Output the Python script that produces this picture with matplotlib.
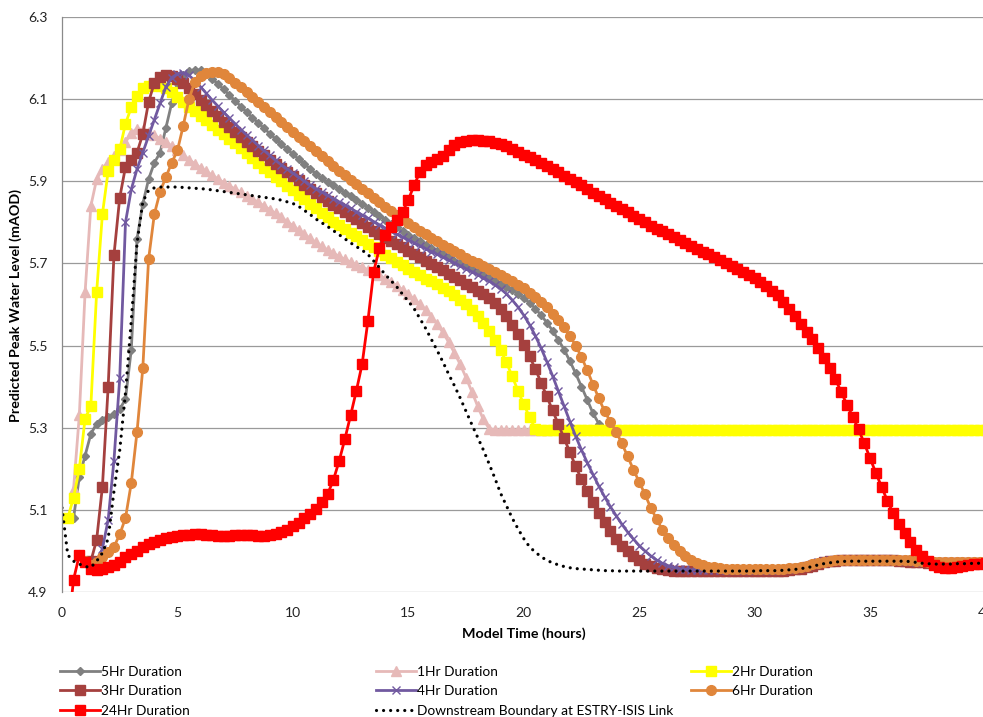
import numpy as np
import matplotlib
matplotlib.use("Agg")
import matplotlib.pyplot as plt

plt.rcParams['font.family'] = ['Lato', 'DejaVu Sans']

# ---------------- data (model time step 0.25 h) ----------------
STEP = 0.25
x_ticks = [0, 5, 10, 15, 20, 25, 30, 35, 40]
y_ticks = [4.9, 5.1, 5.3, 5.5, 5.7, 5.9, 6.1, 6.3]

hr5_start = 0.5
hr5 = [5.08, 5.18,
       5.232, 5.285, 5.31, 5.318,
       5.326, 5.334, 5.345, 5.37,
       5.49, 5.76, 5.845, 5.905,
       5.945, 5.97, 6.03, 6.09,
       6.14, 6.158, 6.168, 6.172,
       6.17, 6.162, 6.15, 6.137,
       6.124, 6.11, 6.096, 6.082,
       6.068, 6.055, 6.042, 6.029,
       6.016, 6.003, 5.99, 5.978,
       5.966, 5.954, 5.942, 5.93,
       5.918, 5.907, 5.898, 5.89,
       5.881, 5.872, 5.863, 5.854,
       5.845, 5.836, 5.826, 5.816,
       5.806, 5.797, 5.788, 5.779,
       5.77, 5.762, 5.754, 5.746,
       5.738, 5.73, 5.722, 5.715,
       5.707, 5.7, 5.693, 5.686,
       5.679, 5.672, 5.665, 5.658,
       5.651, 5.643, 5.635, 5.626,
       5.616, 5.604, 5.59, 5.574,
       5.556, 5.536, 5.514, 5.49,
       5.462, 5.432, 5.4, 5.368,
       5.335, 5.31, 5.298]

hr1_start = 0.5
hr1 = [5.15, 5.33,
       5.63, 5.84, 5.905, 5.93,
       5.948, 5.962, 5.976, 5.995,
       6.018, 6.028, 6.026, 6.02,
       6.012, 6.004, 5.996, 5.986,
       5.975, 5.964, 5.953, 5.943,
       5.933, 5.924, 5.915, 5.906,
       5.897, 5.889, 5.881, 5.873,
       5.865, 5.857, 5.849, 5.84,
       5.831, 5.822, 5.812, 5.802,
       5.792, 5.781, 5.771, 5.761,
       5.751, 5.742, 5.733, 5.725,
       5.717, 5.71, 5.703, 5.697,
       5.691, 5.685, 5.678, 5.671,
       5.663, 5.655, 5.646, 5.636,
       5.625, 5.613, 5.6, 5.586,
       5.57, 5.552, 5.532, 5.508,
       5.482, 5.454, 5.422, 5.388,
       5.353, 5.32, 5.298, 5.295,
       5.295, 5.295, 5.295, 5.295,
       5.295, 5.295, 5.295, 5.295,
       5.295]

hr2_start = 0.25
hr2 = [5.08, 5.13, 5.20,
       5.322, 5.353, 5.63, 5.82,
       5.925, 5.952, 5.978, 6.04,
       6.08, 6.108, 6.126, 6.132,
       6.134, 6.132, 6.127, 6.117,
       6.105, 6.093, 6.081, 6.07,
       6.059, 6.048, 6.037, 6.026,
       6.015, 6.004, 5.993, 5.981,
       5.969, 5.957, 5.945, 5.933,
       5.922, 5.911, 5.9, 5.889,
       5.878, 5.867, 5.856, 5.845,
       5.834, 5.823, 5.812, 5.802,
       5.793, 5.784, 5.775, 5.766,
       5.757, 5.748, 5.739, 5.73,
       5.721, 5.712, 5.703, 5.695,
       5.687, 5.679, 5.671, 5.663,
       5.656, 5.649, 5.641, 5.632,
       5.623, 5.612, 5.6, 5.586,
       5.571, 5.554, 5.535, 5.513,
       5.489, 5.459, 5.425, 5.39,
       5.357, 5.326, 5.298, 5.295,
       5.295, 5.295, 5.295, 5.295,
       5.295, 5.295, 5.295, 5.295,
       5.295, 5.295, 5.295, 5.295,
       5.295, 5.295, 5.295, 5.295,
       5.295, 5.295, 5.295, 5.295,
       5.295, 5.295, 5.295, 5.295,
       5.295, 5.295, 5.295, 5.295,
       5.295, 5.295, 5.295, 5.295,
       5.295, 5.295, 5.295, 5.295,
       5.295, 5.295, 5.295, 5.295,
       5.295, 5.295, 5.295, 5.295,
       5.295, 5.295, 5.295, 5.295,
       5.295, 5.295, 5.295, 5.295,
       5.295, 5.295, 5.295, 5.295,
       5.295, 5.295, 5.295, 5.295,
       5.295, 5.295, 5.295, 5.295,
       5.295, 5.295, 5.295, 5.295,
       5.295, 5.295, 5.295, 5.295,
       5.295, 5.295, 5.295, 5.295,
       5.295]

hr3_start = 1.25
hr3 = [4.975, 5.027, 5.156,
       5.40, 5.72, 5.86, 5.935,
       5.952, 5.97, 6.015, 6.093,
       6.14, 6.154, 6.159, 6.157,
       6.15, 6.14, 6.127, 6.113,
       6.099, 6.085, 6.071, 6.058,
       6.045, 6.032, 6.02, 6.008,
       5.996, 5.985, 5.974, 5.963,
       5.952, 5.942, 5.932, 5.922,
       5.912, 5.902, 5.892, 5.882,
       5.872, 5.862, 5.852, 5.843,
       5.834, 5.825, 5.816, 5.807,
       5.798, 5.789, 5.78, 5.771,
       5.763, 5.755, 5.747, 5.739,
       5.731, 5.723, 5.715, 5.707,
       5.699, 5.691, 5.683, 5.675,
       5.667, 5.659, 5.651, 5.643,
       5.634, 5.625, 5.615, 5.603,
       5.588, 5.571, 5.551, 5.528,
       5.502, 5.474, 5.443, 5.41,
       5.376, 5.342, 5.308, 5.274,
       5.24, 5.206, 5.174, 5.145,
       5.118, 5.093, 5.07, 5.048,
       5.029, 5.013, 4.999, 4.987,
       4.977, 4.969, 4.963, 4.959,
       4.956, 4.954, 4.952, 4.951,
       4.951, 4.951, 4.951, 4.951,
       4.951, 4.951, 4.951, 4.951,
       4.951, 4.951, 4.951, 4.951,
       4.951, 4.951, 4.951, 4.951,
       4.951, 4.952, 4.953, 4.955,
       4.957, 4.96, 4.964, 4.968,
       4.972, 4.975, 4.976, 4.977,
       4.977, 4.977, 4.977, 4.977,
       4.977, 4.977, 4.977, 4.977,
       4.977, 4.976, 4.975, 4.974,
       4.973, 4.972, 4.971, 4.971,
       4.971, 4.971, 4.971, 4.971,
       4.971, 4.971, 4.971, 4.971,
       4.971]

hr4_start = 1.5
hr4 = [4.975, 5.005,
       5.076, 5.22, 5.42, 5.80,
       5.88, 5.93, 5.97, 6.01,
       6.05, 6.09, 6.13, 6.152,
       6.162, 6.164, 6.158, 6.145,
       6.13, 6.114, 6.098, 6.083,
       6.068, 6.054, 6.04, 6.026,
       6.013, 6.0, 5.987, 5.975,
       5.963, 5.951, 5.94, 5.93,
       5.92, 5.91, 5.90, 5.891,
       5.882, 5.874, 5.866, 5.858,
       5.85, 5.842, 5.834, 5.826,
       5.818, 5.81, 5.802, 5.794,
       5.786, 5.778, 5.771, 5.764,
       5.757, 5.75, 5.743, 5.736,
       5.729, 5.722, 5.715, 5.708,
       5.701, 5.694, 5.687, 5.68,
       5.673, 5.665, 5.657, 5.648,
       5.638, 5.626, 5.611, 5.594,
       5.574, 5.551, 5.524, 5.494,
       5.461, 5.426, 5.389, 5.352,
       5.315, 5.279, 5.246, 5.215,
       5.186, 5.158, 5.132, 5.108,
       5.086, 5.065, 5.046, 5.029,
       5.013, 5.0, 4.988, 4.978,
       4.97, 4.964, 4.96, 4.957,
       4.955, 4.954, 4.954, 4.954,
       4.954, 4.954, 4.954, 4.954,
       4.954, 4.954, 4.954, 4.954,
       4.954, 4.954, 4.954, 4.954,
       4.954, 4.955, 4.956, 4.958,
       4.96, 4.963, 4.967, 4.972,
       4.976, 4.978, 4.979, 4.979,
       4.979, 4.979, 4.979, 4.979,
       4.979, 4.979, 4.979, 4.979,
       4.978, 4.977, 4.976, 4.975,
       4.974, 4.973, 4.972, 4.972,
       4.972, 4.972, 4.972, 4.972,
       4.972, 4.972, 4.972, 4.972,
       4.972]

hr6_start = 0.75
hr6 = [4.99,
       4.975, 4.965, 4.972, 4.985,
       4.997, 5.01, 5.04, 5.08,
       5.165, 5.29, 5.445, 5.71,
       5.82, 5.875, 5.91, 5.945,
       5.975, 6.035, 6.1, 6.142,
       6.156, 6.163, 6.166, 6.165,
       6.16, 6.151, 6.14, 6.129,
       6.117, 6.105, 6.093, 6.081,
       6.069, 6.057, 6.045, 6.033,
       6.021, 6.009, 5.997, 5.985,
       5.973, 5.961, 5.949, 5.937,
       5.926, 5.915, 5.904, 5.893,
       5.882, 5.871, 5.86, 5.849,
       5.838, 5.828, 5.818, 5.808,
       5.798, 5.789, 5.78, 5.771,
       5.762, 5.754, 5.746, 5.738,
       5.73, 5.722, 5.714, 5.707,
       5.70, 5.693, 5.686, 5.679,
       5.672, 5.664, 5.656, 5.648,
       5.639, 5.629, 5.618, 5.606,
       5.593, 5.578, 5.562, 5.544,
       5.523, 5.5, 5.472, 5.44,
       5.405, 5.372, 5.34, 5.315,
       5.29, 5.262, 5.23, 5.198,
       5.168, 5.138, 5.105, 5.078,
       5.052, 5.032, 5.014, 5.0,
       4.988, 4.979, 4.971, 4.966,
       4.962, 4.96, 4.958, 4.957,
       4.957, 4.957, 4.957, 4.957,
       4.957, 4.957, 4.957, 4.957,
       4.957, 4.957, 4.958, 4.959,
       4.961, 4.964, 4.967, 4.971,
       4.974, 4.976, 4.977, 4.978,
       4.978, 4.978, 4.978, 4.978,
       4.978, 4.978, 4.978, 4.978,
       4.978, 4.978, 4.978, 4.977,
       4.976, 4.975, 4.974, 4.974,
       4.974, 4.974, 4.974, 4.974,
       4.974, 4.974, 4.974, 4.974,
       4.974]

hr24_start = 0.25
hr24 = [4.80, 4.93, 4.99,
        4.972, 4.957, 4.953, 4.955,
        4.96, 4.966, 4.974, 4.984,
        4.993, 5.001, 5.009, 5.016,
        5.022, 5.027, 5.031, 5.034,
        5.036, 5.038, 5.039, 5.04,
        5.04, 5.039, 5.038, 5.037,
        5.037, 5.037, 5.038, 5.039,
        5.039, 5.038, 5.037, 5.037,
        5.038, 5.041, 5.046, 5.052,
        5.06, 5.069, 5.079, 5.09,
        5.103, 5.118, 5.138, 5.172,
        5.218, 5.272, 5.33, 5.39,
        5.455, 5.56, 5.68, 5.738,
        5.768, 5.788, 5.806, 5.825,
        5.855, 5.89, 5.922, 5.94,
        5.948, 5.954, 5.962, 5.975,
        5.988, 5.995, 5.999, 6.0,
        6.0, 5.999, 5.997, 5.994,
        5.99, 5.985, 5.979, 5.972,
        5.965, 5.958, 5.951, 5.944,
        5.937, 5.93, 5.922, 5.914,
        5.906, 5.898, 5.89, 5.881,
        5.872, 5.864, 5.856, 5.848,
        5.84, 5.832, 5.824, 5.816,
        5.808, 5.8, 5.792, 5.785,
        5.778, 5.771, 5.764, 5.757,
        5.75, 5.743, 5.736, 5.729,
        5.722, 5.715, 5.708, 5.701,
        5.694, 5.687, 5.68, 5.672,
        5.664, 5.655, 5.645, 5.634,
        5.622, 5.607, 5.59, 5.572,
        5.553, 5.534, 5.515, 5.494,
        5.47, 5.445, 5.418, 5.387,
        5.356, 5.327, 5.296, 5.262,
        5.226, 5.19, 5.156, 5.122,
        5.092, 5.066, 5.043, 5.022,
        5.003, 4.988, 4.975, 4.966,
        4.961, 4.958, 4.958, 4.96,
        4.963, 4.966, 4.968, 4.969,
        4.97]

ds_start = 0.0
ds = [5.105, 4.99, 4.975, 4.968, 4.962, 4.96, 4.975, 4.995,
      5.03, 5.145, 5.245, 5.385, 5.56, 5.75, 5.85, 5.878,
      5.884, 5.886, 5.886, 5.886, 5.886, 5.885, 5.884, 5.883,
      5.882, 5.881, 5.879, 5.877, 5.875, 5.873, 5.871, 5.869,
      5.867, 5.865, 5.863, 5.861, 5.859, 5.857, 5.854, 5.85,
      5.846, 5.839, 5.829, 5.819, 5.808, 5.799, 5.79, 5.78,
      5.77, 5.76, 5.75, 5.741, 5.732, 5.722, 5.706, 5.69,
      5.673, 5.658, 5.643, 5.625, 5.608, 5.59, 5.566, 5.542,
      5.515, 5.488, 5.46, 5.43, 5.402, 5.372, 5.34, 5.308,
      5.277, 5.246, 5.212, 5.177, 5.14, 5.11, 5.08, 5.054,
      5.03, 5.01, 4.997, 4.986, 4.977, 4.971, 4.966, 4.962,
      4.959, 4.957, 4.956, 4.955, 4.954, 4.953, 4.952, 4.952,
      4.951, 4.951, 4.951, 4.951, 4.951, 4.951, 4.951, 4.951,
      4.951, 4.951, 4.951, 4.951, 4.951, 4.951, 4.951, 4.951,
      4.951, 4.951, 4.951, 4.951, 4.951, 4.951, 4.951, 4.951,
      4.951, 4.952, 4.952, 4.952, 4.952, 4.953, 4.954, 4.955,
      4.957, 4.959, 4.962, 4.966, 4.969, 4.971, 4.973, 4.974,
      4.975, 4.975, 4.975, 4.975, 4.975, 4.975, 4.975, 4.975,
      4.975, 4.975, 4.975, 4.974, 4.972, 4.97, 4.969, 4.968,
      4.968, 4.968, 4.968, 4.969, 4.969, 4.969, 4.97, 4.97,
      4.97]

labels = ["5Hr Duration", "1Hr Duration", "2Hr Duration", "3Hr Duration",
          "4Hr Duration", "6Hr Duration", "24Hr Duration",
          "Downstream Boundary at ESTRY-ISIS Link"]

# ---------------- figure ----------------
W, H = 983, 717
fig = plt.figure(figsize=(W / 100, H / 100), dpi=100)
ax = fig.add_axes([62 / W, (H - 592) / H, (985.5 - 62) / W, (592 - 17) / H])


def t_of(start, vals):
    return start + STEP * np.arange(len(vals))


styles = [
    (hr5_start, hr5, dict(color="#808080", marker="D", ms=4.3)),
    (hr1_start, hr1, dict(color="#E6B9B8", marker="^", ms=7)),
    (hr2_start, hr2, dict(color="#FFFF00", marker="s", ms=7)),
    (hr3_start, hr3, dict(color="#A5403E", marker="s", ms=6.5)),
    (hr4_start, hr4, dict(color="#7159A0", marker="x", ms=5.5, mew=1.0)),
    (hr6_start, hr6, dict(color="#E0863B", marker="o", ms=7)),
    (hr24_start, hr24, dict(color="#FF0000", marker="s", ms=7)),
]

handles = []
for (st, vals, kw), lab in zip(styles, labels[:7]):
    mew = kw.pop("mew", 1.0)
    ln, = ax.plot(t_of(st, vals), vals, lw=2.0, mec=kw["color"], mfc=kw["color"],
                  mew=mew, label=lab, **kw)
    handles.append(ln)

ln, = ax.plot(t_of(ds_start, ds), ds, color="black", lw=2.3,
              linestyle=(0, (0.01, 2.2)), dash_capstyle="round", label=labels[7])
handles.append(ln)

ax.set_xlim(0, 40)
ax.set_ylim(4.9, 6.3)
ax.set_xticks(x_ticks)
ax.set_yticks(y_ticks)
ax.set_yticklabels([f"{v:.1f}" for v in y_ticks])
ax.grid(axis="y", color="#9a9a9a", lw=0.9)
ax.set_axisbelow(True)
for s in ["top", "right", "bottom"]:
    ax.spines[s].set_visible(False)
ax.spines["left"].set_color("#8a8a8a")
ax.spines["left"].set_linewidth(0.9)
ax.tick_params(length=0, labelsize=10, colors="#222222", pad=10.5)

fig.text(524 / W, 1 - 634 / H, "Model Time (hours)", ha="center", va="center",
         fontsize=10.3, fontweight="bold")
fig.text(16 / W, 1 - 305 / H, "Predicted Peak Water Level (mAOD)", ha="center",
         va="center", rotation=90, fontsize=10.3, fontweight="bold")

# legend: three equal-width columns, row-major order as in the original
cols = [[0, 3, 6], [1, 4, 7], [2, 5]]
col_x = [60, 376, 691]
for idx, cx in zip(cols, col_x):
    fig.legend([handles[i] for i in idx], [labels[i] for i in idx],
               loc="upper left", bbox_to_anchor=(cx / W, 1 - 665.5 / H),
               frameon=False, fontsize=9.9, handlelength=2.9, handletextpad=0.1,
               borderpad=0, borderaxespad=0, labelspacing=0.56, numpoints=1)

fig.savefig("out.png", dpi=100)
